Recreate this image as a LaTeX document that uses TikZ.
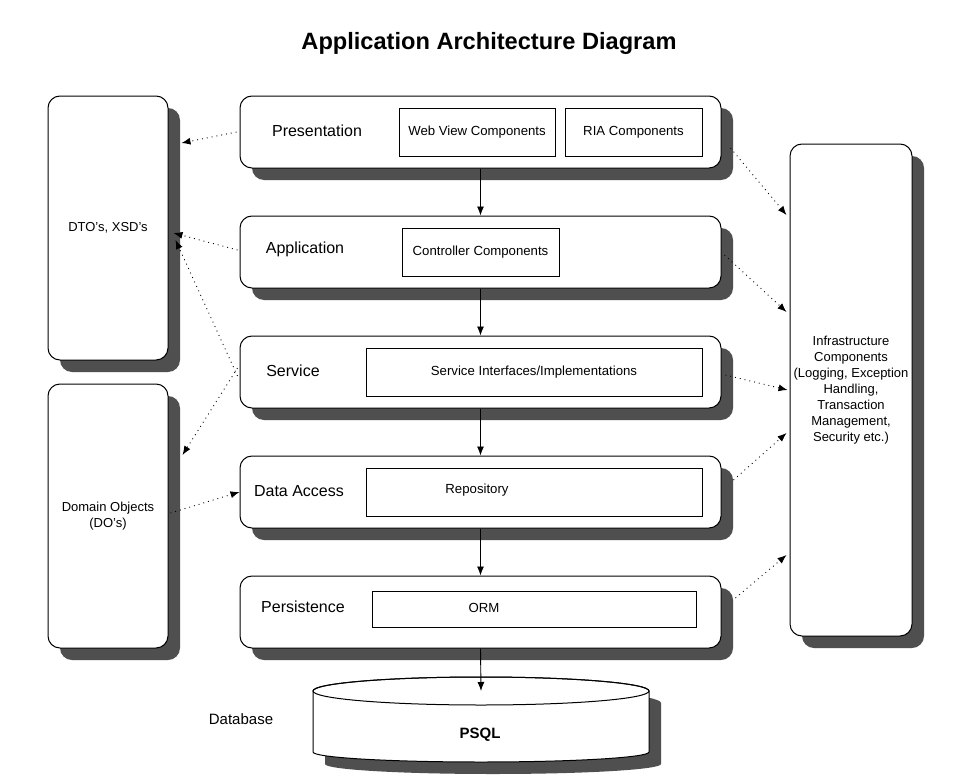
\documentclass[tikz,border=0pt]{standalone}
\usepackage{fontspec}
\setmainfont{Liberation Sans}
\usetikzlibrary{arrows.meta,shadows}
\definecolor{shd}{HTML}{4F4F4F}
\tikzset{
  shadowed/.style={drop shadow={shadow xshift=12pt,shadow yshift=-12pt,fill=shd,opacity=1}},
  layer/.style={draw,line width=1pt,fill=white,rounded corners=12pt,minimum width=481pt,minimum height=72pt,inner sep=0pt,shadowed},
  sidebox/.style={draw,line width=1pt,fill=white,rounded corners=12pt,inner sep=0pt,shadowed,align=center,font=\fontsize{13}{16}\selectfont},
  inbox/.style={draw,line width=0.8pt,fill=white,inner sep=0pt,font=\fontsize{13.2}{16}\selectfont},
  lbl/.style={inner sep=0pt,font=\fontsize{16}{18}\selectfont},
  smalltxt/.style={inner sep=0pt,font=\fontsize{13.2}{16}\selectfont},
  flow/.style={line width=0.9pt,-{Latex[length=9pt,width=7pt]}},
  dep/.style={line width=0.9pt,dash pattern=on 0.9pt off 4pt,-{Latex[length=9pt,width=7pt]}}
}
\begin{document}
\begin{tikzpicture}[x=1pt,y=-1pt]
\useasboundingbox (0,0) rectangle (961,776);
\fill[white] (0,0) rectangle (961,776);
\node[inner sep=0pt,font=\fontsize{23.6}{27}\selectfont\bfseries] (title) at (489,43) {Application Architecture Diagram};

% side boxes
\node[sidebox,minimum width=120pt,minimum height=264pt] (dto) at (108,228) {DTO's, XSD's};
\node[sidebox,minimum width=120pt,minimum height=264pt] (dom) at (108,516) {Domain Objects\\(DO's)};
\node[sidebox,minimum width=122pt,minimum height=492pt] (infra) at (851,390) {Infrastructure\\Components\\(Logging, Exception\\Handling,\\Transaction\\Management,\\Security etc.)};

% layers
\node[layer] (pres) at (480.5,132) {};
\node[layer] (app)  at (480.5,252) {};
\node[layer] (serv) at (480.5,372) {};
\node[layer] (dacc) at (480.5,492) {};
\node[layer] (pers) at (480.5,612) {};

\node[lbl] (presL) at (317,131) {Presentation};
\node[lbl] (appL)  at (305,249) {Application};
\node[lbl] (servL) at (293,371) {Service};
\node[lbl] (daccL) at (299,491) {Data Access};
\node[lbl] (persL) at (303,607) {Persistence};

\node[inbox,minimum width=156pt,minimum height=48pt] (web) at (477,132) {Web View Components};
\node[inbox,minimum width=137pt,minimum height=48pt] (ria) at (633.5,132) {RIA Components};
\node[inbox,minimum width=157pt,minimum height=48pt] (ctrl) at (480.5,252) {Controller Components};
\node[inbox,minimum width=336pt,minimum height=48pt] (sint) at (534,372) {Service Interfaces/Implementations};
\node[inbox,minimum width=336pt,minimum height=48pt] (repo) at (534,492) {};
\node[smalltxt] (repoT) at (477,490) {Repository};
\node[inbox,minimum width=324pt,minimum height=36pt] (orm) at (534,609) {};
\node[smalltxt] (ormT) at (484,608) {ORM};

% database cylinder
\begin{scope}[shift={(12,12)}]
\fill[shd] (313,691) -- (313,752) arc[start angle=180,end angle=360,x radius=168pt,y radius=10pt] -- (649,691) arc[start angle=0,end angle=180,x radius=168pt,y radius=14pt] -- cycle;
\end{scope}
\draw[line width=1pt,fill=white] (313,691) -- (313,752) arc[start angle=180,end angle=360,x radius=168pt,y radius=10pt] -- (649,691) arc[start angle=0,end angle=180,x radius=168pt,y radius=14pt] -- cycle;
\draw[line width=1pt] (481,691) ellipse[x radius=168pt,y radius=14pt];
\node[inner sep=0pt,font=\fontsize{15}{17}\selectfont\bfseries] (db) at (480,735) {PSQL};
\node[lbl,font=\fontsize{15}{17}\selectfont] (dbL) at (241,719) {Database};
\coordinate (dbtop) at (481,691);

% vertical flow
\draw[flow] (pres.south) -- (app.north);
\draw[flow] (app.south) -- (serv.north);
\draw[flow] (serv.south) -- (dacc.north);
\draw[flow] (dacc.south) -- (pers.north);
\draw[flow] (pers.south) -- (dbtop);

% left dependencies
\draw[dep] ([xshift=-3pt]pres.west) -- ([xshift=13pt,yshift=85pt]dto.east);
\draw[dep] ([xshift=-2pt,yshift=2pt]app.west) -- ([xshift=5pt,yshift=-5pt]dto.east);
\draw[dep] ([xshift=-2pt,yshift=-4pt]serv.west) -- ([xshift=7pt,yshift=-12pt]dto.east);
\draw[dep] ([xshift=-2pt,yshift=4pt]serv.west) -- ([xshift=14pt,yshift=61pt]dom.east);
\draw[dep] ([xshift=2pt,yshift=3pt]dom.east) -- (dacc.west);

% right dependencies
\draw[dep] ([xshift=9pt,yshift=-16pt]pres.east) -- ([xshift=-3pt,yshift=175pt]infra.west);
\draw[dep] ([xshift=3pt,yshift=-3pt]app.east) -- ([xshift=-3pt,yshift=78pt]infra.west);
\draw[dep] ([xshift=4pt,yshift=-3pt]serv.east) -- ([xshift=-2pt,yshift=0pt]infra.west);
\draw[dep] ([xshift=12pt,yshift=12pt]dacc.east) -- ([xshift=-3pt,yshift=-43pt]infra.west);
\draw[dep] ([xshift=14pt,yshift=14pt]pers.east) -- ([xshift=-3pt,yshift=-165pt]infra.west);
\end{tikzpicture}
\end{document}
